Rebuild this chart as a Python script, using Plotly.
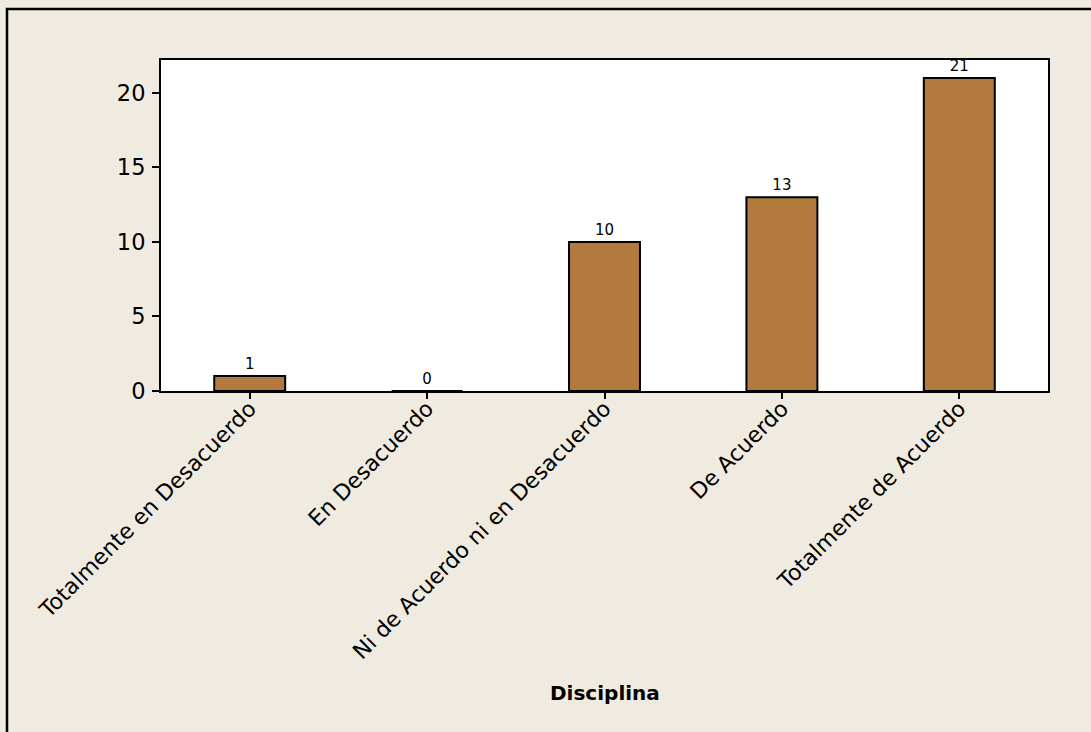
import plotly.graph_objects as go

categories = ["Totalmente en Desacuerdo", "En Desacuerdo", "Ni de Acuerdo ni en Desacuerdo",
              "De Acuerdo", "Totalmente de Acuerdo"]
counts = [1, 0, 10, 13, 21]
y_ticks = [0, 5, 10, 15, 20]
x_title = "Disciplina"

BG = "#EFEBE1"
BAR = "#B37A3E"
FONT = "DejaVu Sans"

W, H = 1091, 732
L, R, T, B = 161, 43, 60, 341
pw, ph = W - L - R, H - T - B

fig = go.Figure()
fig.add_trace(go.Bar(
    x=categories, y=counts, width=0.4,
    marker=dict(color=BAR, line=dict(color="black", width=2)),
    text=[str(v) for v in counts], textposition="outside",
    textfont=dict(family=FONT, size=15, color="black"),
    cliponaxis=False, showlegend=False,
))

fig.update_layout(
    width=W, height=H,
    margin=dict(l=L, r=R, t=T, b=B, autoexpand=False),
    paper_bgcolor=BG, plot_bgcolor="white",
    font=dict(family=FONT, color="black"),
    bargap=0.6,
    xaxis=dict(
        range=[-0.5, 4.5], tickangle=-45, tickfont=dict(size=22, family=FONT),
        ticks="outside", ticklen=6, tickwidth=1.5, tickcolor="black",
        showline=True, linecolor="black", linewidth=2, mirror=True,
        showgrid=False, zeroline=False, automargin=False, ticklabelstandoff=-12,
    ),
    yaxis=dict(
        range=[0, 22.2], tickvals=y_ticks, tickfont=dict(size=22.5, family=FONT),
        ticks="outside", ticklen=7, tickwidth=1.5, tickcolor="black",
        showline=True, linecolor="black", linewidth=2, mirror=True,
        showgrid=False, zeroline=False, automargin=False, ticklabelstandoff=2,
    ),
    annotations=[dict(
        text="<b>" + x_title + "</b>", xref="paper", yref="paper",
        x=0.5, y=(T + ph - 693) / ph, xanchor="center", yanchor="middle",
        showarrow=False, font=dict(size=20, family=FONT, color="black"),
    )],
    shapes=[dict(
        type="rect", xref="paper", yref="paper",
        x0=(7 - L) / pw, x1=2.0, y0=-2.0, y1=(T + ph - 9) / ph,
        line=dict(color="black", width=2.5), fillcolor="rgba(0,0,0,0)",
    )],
)

fig.write_html("out.html", config={"displayModeBar": False},
               post_script="document.body.style.margin='0';")
